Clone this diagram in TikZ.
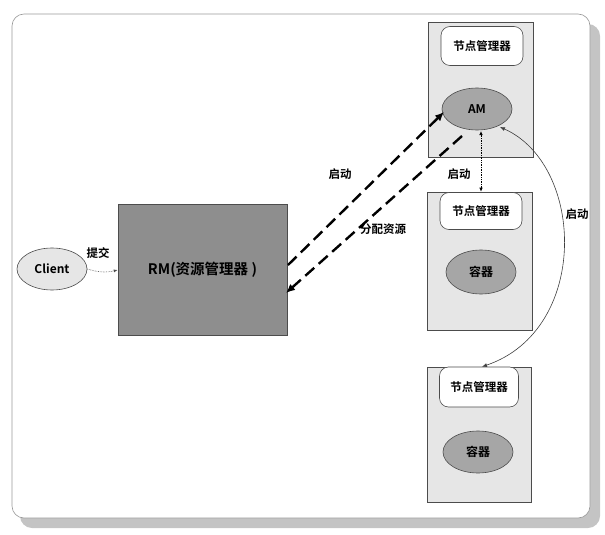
\documentclass[tikz,border=0pt]{standalone}
\usepackage{fontspec}
\setmainfont{Liberation Sans}
\newfontfamily\cjk{Noto Sans CJK SC Bold}
\usetikzlibrary{arrows.meta,shapes.geometric}
\definecolor{nmfill}{HTML}{E6E6E6}
\definecolor{ellfill}{HTML}{A6A6A6}
\definecolor{rmfill}{HTML}{8E8E8E}
\definecolor{shadowc}{HTML}{C4C4C4}
\tikzset{
  lbl/.style={font=\cjk\fontsize{11.5}{12}\selectfont, inner sep=1pt},
  nmbox/.style={draw=black!70, fill=nmfill, line width=0.6pt},
  nmhead/.style={draw=black!70, fill=white, rounded corners=9pt, line width=0.6pt, font=\cjk\fontsize{11.5}{12}\selectfont},
  ell/.style={ellipse, draw=black!70, fill=ellfill, line width=0.6pt, font=\cjk\fontsize{12}{13}\selectfont},
  bigdash/.style={line width=2.4pt, dash pattern=on 12pt off 6pt, -{Latex[length=9pt,width=8pt]}},
}
\begin{document}
\begin{tikzpicture}[x=1pt,y=-1pt]
\useasboundingbox (0,0) rectangle (605,535);
% outer frame with shadow
\fill[shadowc, rounded corners=12pt] (20,24) rectangle (600,528);
\draw[black!40, fill=white, rounded corners=12pt, line width=0.6pt] (12,14) rectangle (590,518);

% client
\node[ell, minimum width=70pt, minimum height=42pt, fill=nmfill] (client) at (52,269) {Client};
% RM
\node[draw=black!70, fill=rmfill, line width=0.6pt, minimum width=169pt, minimum height=131pt, font=\cjk\fontsize{14.5}{15}\selectfont] (rm) at (202.5,270) {RM(资源管理器 )};

% node manager 1
\node[nmbox, minimum width=105pt, minimum height=135pt] (nm1) at (480.5,90) {};
\node[nmhead, minimum width=82pt, minimum height=39pt] (nh1) at (482,46) {节点管理器};
\node[ell, minimum width=70pt, minimum height=42pt] (am) at (477,109) {AM};

% node manager 2
\node[nmbox, minimum width=105pt, minimum height=138pt] (nm2) at (479.5,261) {};
\node[nmhead, minimum width=82pt, minimum height=37pt] (nh2) at (481,211) {节点管理器};
\node[ell, minimum width=70pt, minimum height=44pt] (c2) at (481,272) {容器};

% node manager 3
\node[nmbox, minimum width=104pt, minimum height=135pt] (nm3) at (479,434.5) {};
\node[nmhead, minimum width=79pt, minimum height=40pt] (nh3) at (479,387) {节点管理器};
\node[ell, minimum width=70pt, minimum height=42pt] (c3) at (478,452) {容器};

% client -> RM
\draw[densely dotted, black!70, line width=0.6pt, -{Latex[length=4pt,width=3pt]}] (client.east) to[bend right=15] (rm.west);
\node[lbl] (tj) at (98,253) {提交};

% dashed arrows
\coordinate (rmA) at (288,265);
\coordinate (rmB) at (286,293);
\coordinate (amA) at (444,112);
\coordinate (amB) at (462,136);
\draw[bigdash] (rmA) -- (amA);
\draw[bigdash] (amB) -- (rmB);
\node[lbl] (qd1) at (340,174) {启动};
\node[lbl] (fp) at (383,229) {分配资源};

% AM <-> NM2 dotted
\draw[densely dotted, line width=0.7pt, {Latex[length=4pt,width=3.5pt]}-{Latex[length=4pt,width=3.5pt]}] (481,131) -- (nm2.north -| 481,0);
\node[lbl] (qd2) at (459,174) {启动};

% AM <-> NM3 arc
\coordinate (amC) at (500,127);
\draw[black!75, line width=0.6pt, {Latex[length=5pt,width=4pt]}-{Latex[length=5pt,width=4pt]}] (amC) .. controls (585,165) and (590,330) .. (nm3.north -| 482,0);
\node[lbl] (qd3) at (577,214) {启动};
\end{tikzpicture}
\end{document}
